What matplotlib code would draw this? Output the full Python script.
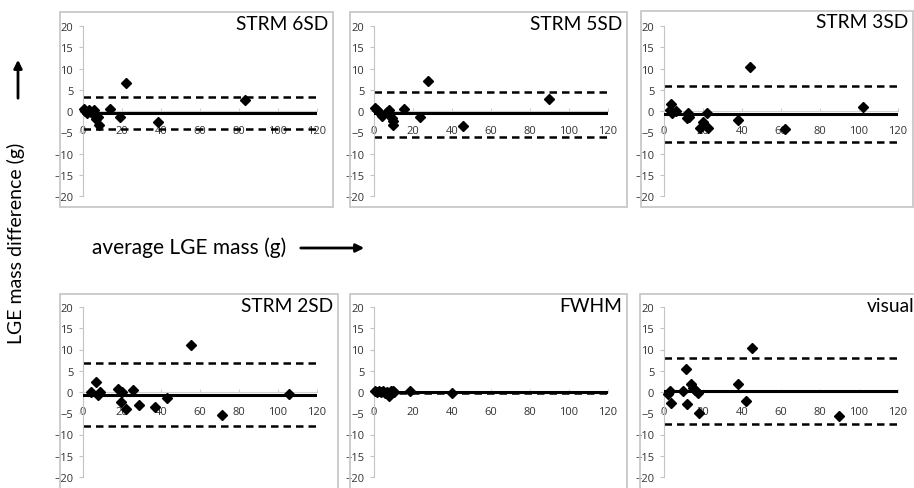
"""
bland_altman_panels.py

Six Bland-Altman panels: difference vs average LGE mass per method.
"""

import matplotlib.pyplot as plt
from matplotlib.patches import Rectangle, FancyArrowPatch

# panel names
methods = ["STRM 6SD", "STRM 5SD", "STRM 3SD", "STRM 2SD", "FWHM", "visual"]

# average LGE mass (g) per panel
avg_6sd = [0.3, 1.0, 1.8, 3.0, 4.3, 5.5, 6.2, 6.9, 7.5, 8.1, 13.7, 18.9, 22.3, 38.6, 83.0]
avg_5sd = [0.5, 1.7, 3.0, 4.3, 6.5, 7.8, 9.0, 9.5, 9.9, 15.4, 23.5, 27.8, 45.4, 89.6]
avg_3sd = [3.0, 3.4, 3.9, 6.1, 11.6, 12.5, 13.0, 18.4, 20.1, 21.8, 22.7, 37.7, 44.0, 62.3, 102.0]
avg_2sd = [4.3, 6.5, 7.7, 8.9, 18.0, 19.3, 20.1, 22.2, 25.6, 28.5, 36.7, 43.2, 55.5, 71.2, 105.8]
avg_fwhm = [0.5, 1.5, 2.5, 3.5, 4.5, 5.5, 6.5, 7.8, 8.5, 9.5, 10.5, 18.4, 40.0]
avg_visual = [2.2, 3.0, 3.4, 9.9, 11.3, 12.0, 13.7, 15.1, 16.0, 17.2, 18.2, 38.0, 42.3, 45.2, 89.6]

# LGE mass difference (g) per panel
diff_6sd = [0.4, 0.1, -0.4, 0.2, -0.3, 0.3, -1.1, -1.8, -1.5, -3.2, 0.4, -1.3, 6.5, -2.7, 2.7]
diff_5sd = [0.6, 0.2, -0.5, -1.2, -0.2, 0.2, -1.7, -2.3, -3.3, 0.4, -1.5, 7.0, -3.5, 2.8]
diff_3sd = [0.2, 1.6, -0.5, 0.0, -1.7, -0.5, -1.3, -3.9, -2.5, -0.5, -3.9, -2.0, 10.4, -4.3, 1.0]
diff_2sd = [0.0, 2.4, -0.8, 0.0, 0.8, -2.4, 0.0, -3.9, 0.5, -3.1, -3.5, -1.4, 11.1, -5.5, -0.4]
diff_fwhm = [0.2, 0.1, 0.2, 0.0, 0.2, -0.2, 0.1, -1.0, 0.2, 0.2, -0.1, 0.2, -0.3]
diff_visual = [-0.4, 0.2, -2.7, 0.2, 5.3, -2.9, 1.8, 1.0, 0.5, -0.2, -4.9, 2.0, -2.0, 10.4, -5.7]

# mean difference and limits of agreement per panel
mean_diff = [-0.4, -0.4, -0.7, -0.6, -0.1, 0.3]
upper_loa = [3.4, 4.4, 6.0, 6.8, 0.1, 8.1]
lower_loa = [-4.2, -6.0, -7.2, -8.0, -0.3, -7.6]

xs = [avg_6sd, avg_5sd, avg_3sd, avg_2sd, avg_fwhm, avg_visual]
ys = [diff_6sd, diff_5sd, diff_3sd, diff_2sd, diff_fwhm, diff_visual]

W, H = 914, 489
FONT = "Lato"

fig = plt.figure(figsize=(W / 100, H / 100), dpi=100)

# panel frames (pixel boxes: left, top, right, bottom)
frames = [(60, 13, 333, 208), (350, 13, 627, 208), (641, 12, 913, 208),
          (60, 295, 338, 500), (350, 295, 627, 500), (640, 295, 925, 500)]
# plot area: x of 0, y of +20 (pixels)
plot_left = [83, 374, 664, 83, 374, 664]
plot_top = [27, 27, 27, 308, 308, 308]
plot_w, plot_h = 234, 170

for i in range(6):
    l, t, r, b = frames[i]
    fig.patches.append(Rectangle((l / W, 1 - b / H), (r - l) / W, (b - t) / H,
                                 transform=fig.transFigure, fill=False,
                                 edgecolor="#c8c8c8", linewidth=1.3, zorder=0))

    ax = fig.add_axes([plot_left[i] / W, 1 - (plot_top[i] + plot_h) / H,
                       plot_w / W, plot_h / H])
    ax.set_xlim(0, 120)
    ax.set_ylim(-20, 20)
    ax.patch.set_alpha(0)

    ax.spines["top"].set_visible(False)
    ax.spines["right"].set_visible(False)
    ax.spines["left"].set_color("#c4c4c4")
    ax.spines["bottom"].set_color("#d0d0d0")
    ax.spines["bottom"].set_position(("data", 0))
    ax.set_xticks(range(0, 121, 20))
    ax.set_yticks(range(-20, 21, 5))
    ax.tick_params(axis="y", length=3, width=0.8, color="#c4c4c4", pad=4,
                   labelsize=8, labelcolor="#333333")
    ax.tick_params(axis="x", length=2, width=0.8, color="#d0d0d0", pad=10,
                   labelsize=8, labelcolor="#333333", direction="in")
    for lab in ax.get_xticklabels() + ax.get_yticklabels():
        lab.set_fontfamily("Open Sans")

    ax.axhline(upper_loa[i], xmin=0, xmax=1, color="black", lw=1.8,
               dashes=(3, 2), zorder=2)
    ax.axhline(lower_loa[i], xmin=0, xmax=1, color="black", lw=1.8,
               dashes=(3, 2), zorder=2)
    ax.axhline(mean_diff[i], xmin=0, xmax=1, color="black", lw=2.2, zorder=3)
    ax.plot(xs[i], ys[i], linestyle="none", marker="D", markersize=5,
            color="black", zorder=4, clip_on=False)

    fig.text((r - 5) / W if i != 5 else 914 / W, 1 - (t + 11) / H, methods[i],
             ha="right", va="center", fontsize=13.8, family=FONT)

# axis titles with arrows
fig.text(16 / W, 1 - 243 / H, "LGE mass difference (g)", rotation=90,
         ha="center", va="center", fontsize=14, family=FONT)
fig.patches.append(FancyArrowPatch(
    (18 / W, 1 - 102 / H), (18 / W, 1 - 58 / H), transform=fig.transFigure,
    arrowstyle="-|>", mutation_scale=12, color="black", lw=2.0))

fig.text(92 / W, 1 - 248 / H, "average LGE mass (g)", ha="left", va="center",
         fontsize=15, family=FONT)
fig.patches.append(FancyArrowPatch(
    (298 / W, 1 - 249 / H), (367 / W, 1 - 249 / H), transform=fig.transFigure,
    arrowstyle="-|>", mutation_scale=12, color="black", lw=2.0))

fig.savefig("out.png", dpi=100)
